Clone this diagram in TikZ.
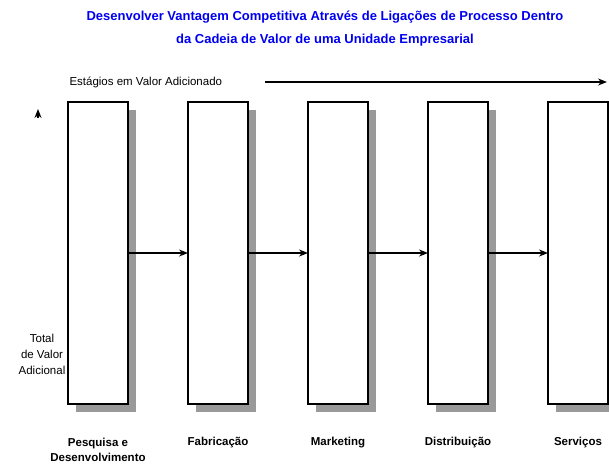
\documentclass[tikz,border=0pt]{standalone}
\usepackage{fontspec}
\setmainfont{Liberation Sans}
\usepackage{xcolor}
\usetikzlibrary{arrows.meta, positioning, shadows}
\definecolor{titleblue}{RGB}{0,0,240}

\begin{document}
\begin{tikzpicture}[x=1pt,y=-1pt]

% =========================
% Styles (ALL IN ONE BLOCK)
% =========================
\tikzset{
    stagebox/.style={draw, line width=1.6pt, fill=white, inner sep=0pt, outer sep=0pt,
        minimum width=60pt, minimum height=302pt,
        drop shadow={shadow xshift=8pt, shadow yshift=-8pt, opacity=1, fill=gray!80}},
    stagelabel/.style={font=\fontsize{11.5}{15}\selectfont\bfseries, align=center},
    sidelabel/.style={font=\fontsize{11.5}{16}\selectfont, align=center},
    flow/.style={-{Stealth[length=9pt,width=7pt]}, line width=1.3pt}
}

\useasboundingbox (0,0) rectangle (609,465);

% =========================
% Title
% =========================
\node[font=\fontsize{13}{23}\selectfont\bfseries, text=titleblue, align=center] (title) at (325,29)
    {Desenvolver Vantagem Competitiva Através de Ligações de Processo Dentro\\
     da Cadeia de Valor de uma Unidade Empresarial};

% =========================
% Stages axis
% =========================
\node[sidelabel, anchor=west] (axis) at (66,82) {Estágios em Valor Adicionado};
\coordinate (axisend) at (607,82);
\draw[flow] (axis.east -| 265,0) -- (axisend);

% =========================
% Value chain boxes
% =========================
\foreach \i in {1,...,5} {
    \node[stagebox] (box\i) at ({98+120*(\i-1)},253) {};
}
\foreach \i/\j in {1/2,2/3,3/4,4/5} {
    \draw[flow] (box\i.east) -- (box\j.west);
}

% =========================
% Labels
% =========================
\node[stagelabel] (lab1) at (98,450) {Pesquisa e\\Desenvolvimento};
\node[stagelabel] (lab2) at (218,443) {Fabricação};
\node[stagelabel] (lab3) at (338,443) {Marketing};
\node[stagelabel] (lab4) at (458,443) {Distribuição};
\node[stagelabel] (lab5) at (578,443) {Serviços};

% Total value added
\node[sidelabel] (total) at (42,354) {Total\\de Valor\\Adicional};
\coordinate (up0) at (38,118);
\coordinate (up1) at (38,109);
\draw[flow] (up0) -- (up1);

\end{tikzpicture}
\end{document}
